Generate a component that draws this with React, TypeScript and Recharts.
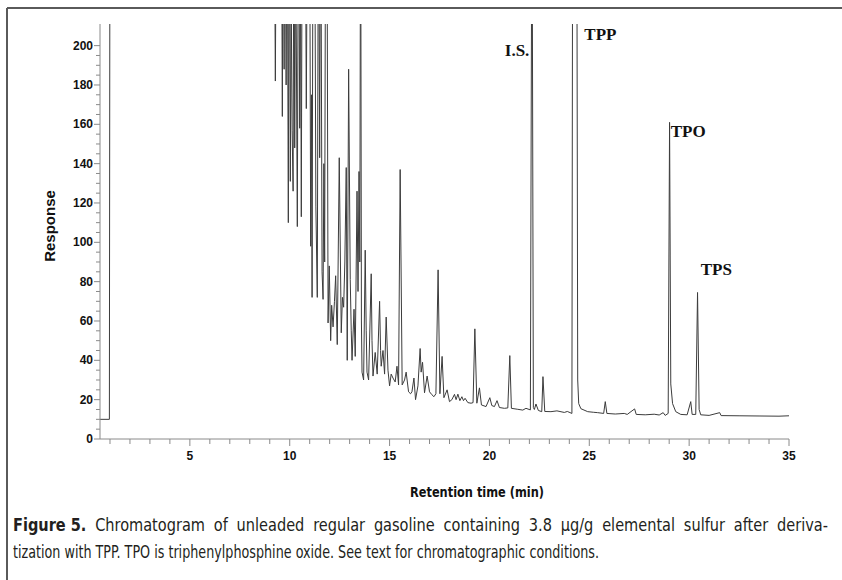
import { LineChart, Line, XAxis, YAxis, ReferenceDot } from 'recharts'

// retention time (min), response
const solventFront: [number, number][] = [
  [0.5, 10], [0.97, 10], [1.0, 300], [9.22, 300],
]

const lightEnds: [number, number][] = [
  [9.28, 182], [9.34, 300], [9.58, 300], [9.63, 164], [9.67, 300], [9.72, 188],
  [9.76, 300], [9.82, 180], [9.87, 300], [9.93, 110], [9.97, 300], [10.03, 131],
  [10.07, 230], [10.12, 157], [10.17, 126], [10.21, 300], [10.25, 148], [10.3, 260],
  [10.38, 108], [10.44, 300], [10.5, 158], [10.54, 240], [10.58, 113], [10.63, 300],
  [10.77, 300], [10.83, 168], [10.9, 300], [10.99, 300], [11.05, 98], [11.09, 175],
  [11.12, 72], [11.17, 300], [11.24, 300], [11.31, 118], [11.38, 72], [11.44, 300],
  [11.5, 143], [11.55, 300], [11.62, 85], [11.67, 71], [11.71, 140], [11.75, 90],
  [11.8, 300], [11.86, 300], [11.92, 59], [11.98, 88], [12.05, 50], [12.1, 68],
  [12.17, 57], [12.24, 70], [12.3, 83], [12.38, 48], [12.48, 143], [12.58, 54],
  [12.64, 72], [12.7, 67], [12.76, 90], [12.83, 138], [12.88, 40], [12.95, 188],
  [13.03, 81], [13.08, 55], [13.12, 40], [13.22, 66], [13.28, 42], [13.37, 126],
  [13.42, 75], [13.47, 136], [13.51, 90], [13.55, 300], [13.59, 60],
]

const midRange: [number, number][] = [
  [13.62, 34], [13.7, 30], [13.78, 96], [13.83, 55], [13.87, 34], [13.95, 30],
  [14.08, 84], [14.12, 50], [14.17, 32], [14.28, 44], [14.38, 33], [14.5, 70],
  [14.55, 45], [14.58, 37], [14.67, 45], [14.75, 33], [14.83, 62], [14.92, 35],
  [15.0, 27], [15.08, 33], [15.17, 31], [15.28, 29], [15.37, 37], [15.45, 27.5],
  [15.53, 137], [15.63, 27.5], [15.75, 30], [15.83, 34], [15.95, 24], [16.05, 23],
  [16.12, 24], [16.22, 31], [16.3, 20], [16.42, 27], [16.53, 46], [16.58, 34],
  [16.65, 39], [16.75, 23.5], [16.88, 32], [17.0, 24], [17.12, 22.5], [17.22, 21.5],
  [17.32, 23], [17.43, 86], [17.52, 23], [17.63, 42], [17.72, 21], [17.88, 25],
  [18.0, 19], [18.12, 20], [18.25, 22.7], [18.33, 20], [18.42, 22.8], [18.52, 19.5],
  [18.62, 21.5], [18.7, 19.5], [18.78, 20.7], [18.92, 18.5], [19.08, 18.2], [19.18, 18.5],
  [19.27, 56], [19.37, 18.2], [19.5, 26], [19.6, 17.3], [19.83, 16.5], [20.02, 21],
  [20.12, 17], [20.25, 16.5], [20.38, 19.5], [20.5, 16], [20.75, 15.6], [20.92, 15.8],
]

const lateRange: [number, number][] = [
  [21.02, 42.4], [21.1, 15.6], [21.42, 15.1], [21.67, 14.7], [21.83, 15.6], [22.05, 14.8],
  [22.13, 300], [22.2, 16], [22.25, 15], [22.33, 17.8], [22.45, 14.5], [22.62, 13.9],
  [22.68, 31.7], [22.77, 14], [23.08, 13.9], [23.38, 14.3], [23.75, 13.5], [23.9, 14],
  [24.13, 13], [24.17, 300], [24.37, 300], [24.42, 30], [24.47, 18], [24.58, 15.4],
  [24.92, 13.9], [25.2, 13.6], [25.42, 13.4], [25.72, 13], [25.8, 19], [25.88, 13],
  [26.3, 12.7], [26.75, 13], [26.9, 12.5], [27.27, 15.3], [27.35, 12.5], [27.8, 12.3],
  [28.25, 12.6], [28.5, 12.2], [28.7, 13.4], [28.8, 12], [28.95, 13], [29.02, 161],
  [29.08, 28], [29.17, 18], [29.33, 13.9], [29.58, 12.5], [29.9, 12.3], [30.08, 19],
  [30.15, 12.5], [30.33, 12.5], [30.42, 74.5], [30.5, 15], [30.58, 12.3], [31.0, 12],
  [31.53, 13.4], [31.6, 11.9], [32.5, 11.8], [33.5, 11.7], [34.5, 11.6], [35.0, 11.8],
]

const xTicks = [
  1, 2, 3, 4, 5, 6, 7, 8, 9, 10, 11, 12, 13, 14, 15, 16, 17, 18,
  19, 20, 21, 22, 23, 24, 25, 26, 27, 28, 29, 30, 31, 32, 33, 34, 35,
]
const yTicks = [
  0, 5, 10, 15, 20, 25, 30, 35, 40, 45, 50, 55, 60, 65, 70, 75, 80, 85, 90, 95, 100,
  105, 110, 115, 120, 125, 130, 135, 140, 145, 150, 155, 160, 165, 170, 175, 180,
  185, 190, 195, 200,
]

const peakLabels = ['I.S.', 'TPP', 'TPO', 'TPS']
const peakLabelAt: [number, number][] = [[22.0, 194.5], [24.75, 203], [29.08, 153.7], [30.58, 83.5]]
const peakLabelAnchor = ['end', 'start', 'start', 'start']

const captionLine1 = ['Figure 5.', 'Chromatogram', 'of', 'unleaded', 'regular', 'gasoline', 'containing', '3.8', 'µg/g', 'elemental', 'sulfur', 'after', 'deriva-']
const captionLine2 = 'tization with TPP. TPO is triphenylphosphine oxide. See text for chromatographic conditions.'

const trace = [...solventFront, ...lightEnds, ...midRange, ...lateRange].map(([t, v]) => ({ t, v }))

const AXIS = '#8a8a8a'
const TICK_FONT = '"Liberation Sans", Arial, sans-serif'
const CAPTION_FONT = '"Liberation Sans Narrow", "DejaVu Sans Condensed", "Liberation Sans", sans-serif'
const SQUEEZE = 0.95

function XTick(props: any) {
  const { x, y, payload } = props
  const major = payload.value % 5 === 0
  return (
    <g>
      <line x1={x} x2={x} y1={y} y2={y + (major ? 7 : 5)} stroke={AXIS} />
      {major && (
        <text x={x} y={y + 21} textAnchor="middle" fontFamily={TICK_FONT} fontSize={12} fontWeight="bold" fill="#111">
          {payload.value}
        </text>
      )}
    </g>
  )
}

function YTick(props: any) {
  const { x, y, payload } = props
  const major = payload.value % 20 === 0
  return (
    <g>
      <line x1={x - (major ? 6 : 4)} x2={x} y1={y} y2={y} stroke={AXIS} />
      {major && (
        <text x={x - 7} y={y + 4} textAnchor="end" fontFamily={TICK_FONT} fontSize={12} fontWeight="bold" fill="#111">
          {payload.value}
        </text>
      )}
    </g>
  )
}

export default function App() {
  return (
    <div style={{ position: 'relative', width: 842, height: 580, background: '#fff', overflow: 'hidden' }}>
      <style>{'body{margin:0}'}</style>
      <LineChart width={842} height={580} data={trace} margin={{ top: 24, right: 53, left: 40, bottom: 111 }}>
        <XAxis
          dataKey="t"
          type="number"
          domain={[0.5, 35]}
          allowDataOverflow
          ticks={xTicks}
          interval={0}
          tickSize={0}
          tickMargin={0}
          tickLine={false}
          axisLine={{ stroke: AXIS }}
          tick={XTick}
          height={30}
        />
        <YAxis
          type="number"
          domain={[0, 211]}
          allowDataOverflow
          ticks={yTicks}
          interval={0}
          tickSize={0}
          tickMargin={0}
          tickLine={false}
          axisLine={{ stroke: AXIS }}
          tick={YTick}
          width={60}
        />
        <Line
          type="linear"
          dataKey="v"
          stroke="#3c3c3c"
          strokeWidth={1}
          dot={false}
          activeDot={false}
          isAnimationActive={false}
        />
        {peakLabels.map((name, i) => (
          <ReferenceDot
            key={name}
            x={peakLabelAt[i][0]}
            y={peakLabelAt[i][1]}
            r={0}
            ifOverflow="visible"
            shape={(p: any) => (
              <text
                x={p.cx}
                y={p.cy}
                textAnchor={peakLabelAnchor[i] as any}
                fontFamily='"Liberation Serif", "Times New Roman", serif'
                fontWeight="bold"
                fontSize={17}
                fill="#111"
              >
                {name}
              </text>
            )}
          />
        ))}
      </LineChart>

      <svg width={842} height={580} style={{ position: 'absolute', left: 0, top: 0, pointerEvents: 'none' }}>
        <line x1={7} y1={8} x2={842} y2={8} stroke="#5a5a5a" strokeWidth={2} />
        <line x1={7} y1={8} x2={7} y2={580} stroke="#5a5a5a" strokeWidth={2} />
        <text
          transform="translate(55 226) rotate(-90)"
          textAnchor="middle"
          fontFamily={TICK_FONT}
          fontWeight="bold"
          fontSize={15}
          fill="#111"
        >
          Response
        </text>
        <text
          x={410}
          y={497}
          textLength={134}
          lengthAdjust="spacingAndGlyphs"
          fontFamily={CAPTION_FONT}
          fontWeight="bold"
          fontSize={14}
          fill="#111"
        >
          Retention time (min)
        </text>
        <text x={13} y={558} textLength={586} lengthAdjust="spacingAndGlyphs" fontFamily={CAPTION_FONT} fontSize={17} fill="#231f20">
          {captionLine2}
        </text>
      </svg>

      <div
        style={{
          position: 'absolute',
          left: 13,
          top: 517,
          width: 815 / SQUEEZE,
          transform: `scaleX(${SQUEEZE})`,
          transformOrigin: 'left top',
          fontFamily: CAPTION_FONT,
          fontSize: 17,
          lineHeight: '17px',
          color: '#231f20',
          whiteSpace: 'nowrap',
          display: 'flex',
          justifyContent: 'space-between',
        }}
      >
        {captionLine1.map((w, i) => (
          <span key={i} style={{ fontWeight: i === 0 ? 'bold' : 'normal' }}>{w}</span>
        ))}
      </div>
    </div>
  )
}
